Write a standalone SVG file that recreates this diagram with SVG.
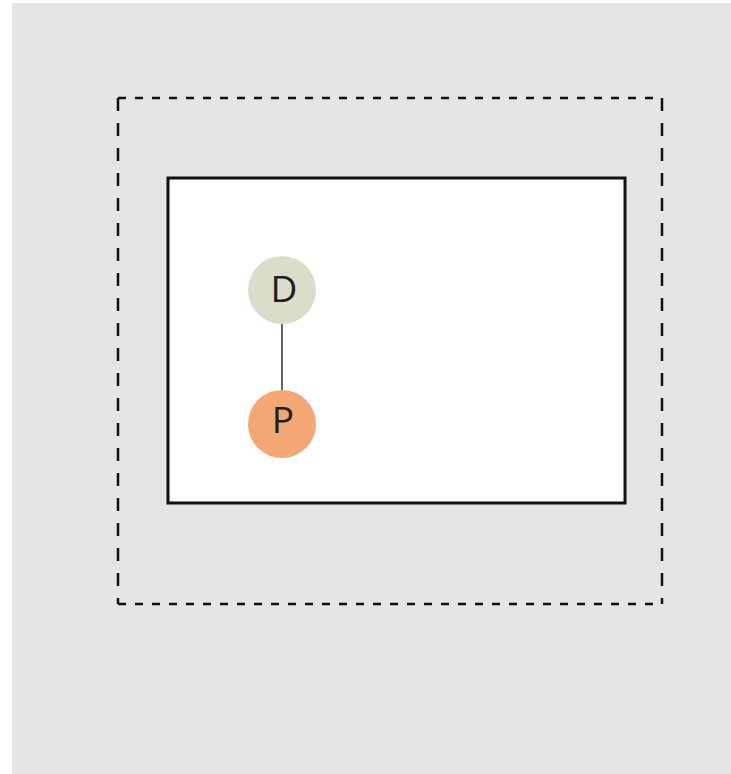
<svg xmlns="http://www.w3.org/2000/svg" width="731" height="774" viewBox="0 0 731 774">
<style>
.dh{stroke:#111;stroke-width:2.5;stroke-dasharray:8 9;fill:none}
.dv{stroke:#111;stroke-width:2.5;stroke-dasharray:13 12;fill:none}
.lbl{font-family:"Open Sans","DejaVu Sans",sans-serif;font-size:37px;fill:#1e1e1e;text-anchor:middle}
</style>
<rect x="0" y="0" width="731" height="774" fill="#ffffff"/>
<rect x="12" y="3" width="719" height="771" fill="#e5e5e5"/>
<g id="outer-boundary">
<line class="dh" x1="118" y1="98" x2="662" y2="98"/>
<line class="dh" x1="118" y1="604" x2="662" y2="604"/>
<line class="dv" x1="118" y1="98" x2="118" y2="604"/>
<line class="dv" x1="662" y1="98" x2="662" y2="604"/>
</g>
<g id="inner-box">
<rect x="168" y="178" width="457" height="325" fill="#ffffff" stroke="#111" stroke-width="3"/>
</g>
<g id="connectors">
<line x1="282" y1="324" x2="282" y2="390" stroke="#111" stroke-width="1.3"/>
</g>
<g id="node-D">
<circle cx="282" cy="290" r="34" fill="#dcdccb"/>
<text class="lbl" x="284" y="302">D</text>
</g>
<g id="node-P">
<circle cx="282" cy="424" r="34" fill="#f4a773"/>
<text class="lbl" x="283" y="433">P</text>
</g>
</svg>
